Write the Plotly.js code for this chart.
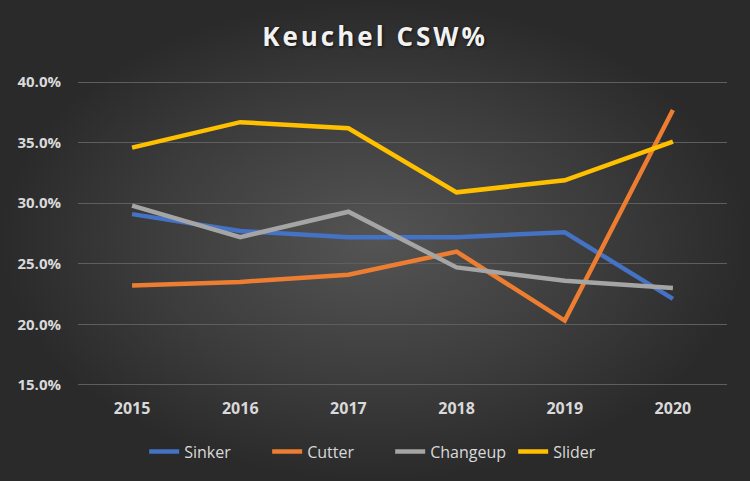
<!DOCTYPE html>
<html>
<head>
<meta charset="utf-8">
<script src="https://cdn.plot.ly/plotly-3.0.1.min.js"></script>
<style>
  html, body { margin: 0; padding: 0; }
  #chart {
    width: 750px;
    height: 481px;
    background: radial-gradient(ellipse closest-side at 50% 50%, #545454 0%, #3c3c3c 60%, #2a2a2a 100%);
  }
  .gtitle { letter-spacing: 3px; }
</style>
</head>
<body>
<div id="chart"></div>
<script>
const years = ['2015', '2016', '2017', '2018', '2019', '2020']

const sinker = [29.1, 27.7, 27.2, 27.2, 27.6, 22.1]
const cutter = [23.2, 23.5, 24.1, 26.0, 20.3, 37.7]
const changeup = [29.8, 27.2, 29.3, 24.7, 23.6, 23.0]
const slider = [34.6, 36.7, 36.2, 30.9, 31.9, 35.1]

const names = ['Sinker', 'Cutter', 'Changeup', 'Slider']
const colors = ['#4472C4', '#ED7D31', '#A5A5A5', '#FFC000']

function line_trace(name, values, col) {
    return {
        type: 'scatter',
        mode: 'lines',
        name: name,
        x: years,
        y: values,
        line: {
            color: col,
            width: 4.5,
        },
    }
}

const traces = [
    line_trace(names[0], sinker, colors[0]),
    line_trace(names[1], cutter, colors[1]),
    line_trace(names[2], changeup, colors[2]),
    line_trace(names[3], slider, colors[3]),
]

Plotly.newPlot('chart', traces, {
    width: 750,
    height: 481,
    paper_bgcolor: 'rgba(0,0,0,0)',
    plot_bgcolor: 'rgba(0,0,0,0)',
    margin: {t: 81, r: 23, b: 95, l: 78},
    title: {
        text: 'Keuchel CSW%',
        x: 0.5,
        xref: 'container',
        y: 0.923,
        yref: 'container',
        yanchor: 'middle',
        font: {
            family: 'Open Sans, sans-serif',
            size: 26,
            weight: 'bold',
            color: '#f2f2f2',
            shadow: '1px 1px 3px rgba(0,0,0,0.7)',
        },
    },
    xaxis: {
        type: 'category',
        range: [-0.5, 5.5],
        showgrid: false,
        zeroline: false,
        showline: false,
        ticks: '',
        ticklabelstandoff: 11,
        automargin: false,
        tickfont: {family: 'Open Sans, sans-serif', size: 16, weight: 'bold', color: '#d9d9d9'},
    },
    yaxis: {
        range: [14.9, 40.1],
        dtick: 5,
        tick0: 15,
        tickformat: '.1f',
        ticksuffix: '%',
        showgrid: true,
        gridcolor: '#5e5e5e',
        gridwidth: 1,
        zeroline: false,
        showline: false,
        ticks: '',
        ticklabelstandoff: 16,
        automargin: false,
        tickfont: {family: 'Open Sans, sans-serif', size: 15, weight: 'bold', color: '#d9d9d9'},
    },
    showlegend: true,
    legend: {
        orientation: 'h',
        x: 0.481,
        xanchor: 'center',
        y: -0.215,
        yanchor: 'middle',
        entrywidth: 78,
        font: {family: 'Open Sans, sans-serif', size: 16, color: '#d9d9d9'},
        bgcolor: 'rgba(0,0,0,0)',
    },
}, {displayModeBar: false})
</script>
</body>
</html>
